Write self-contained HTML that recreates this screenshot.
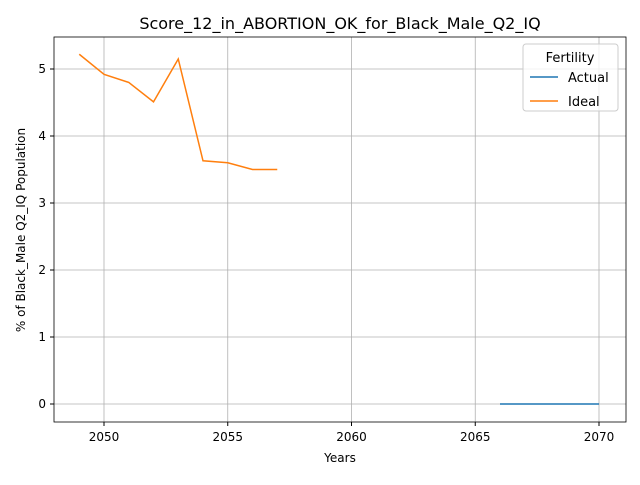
<!DOCTYPE html>
<html><head><meta charset="utf-8"><style>
body{margin:0;background:#fff;font-family:"Liberation Sans","DejaVu Sans",sans-serif}
</style></head><body>
<svg id="chart" width="640" height="480" xmlns="http://www.w3.org/2000/svg">
<rect width="640" height="480" fill="#fff"/>
<text x="340" y="29" font-size="16" text-anchor="middle" font-family="DejaVu Sans, sans-serif">Score_12_in_ABORTION_OK_for_Black_Male_Q2_IQ</text>
<g id="grid"></g>
<g id="series"></g>
<rect x="54" y="37" width="572" height="385" fill="none" stroke="#000" stroke-width="0.8"/>
<g id="ticks" font-family="DejaVu Sans, sans-serif" font-size="12"></g>
<text x="340" y="462" font-size="12" text-anchor="middle" font-family="DejaVu Sans, sans-serif">Years</text>
<text transform="translate(25,230) rotate(-90)" font-size="12" text-anchor="middle" font-family="DejaVu Sans, sans-serif">% of Black_Male Q2_IQ Population</text>
<g font-family="DejaVu Sans, sans-serif">
<rect x="523" y="44" width="95" height="67" rx="3" fill="#fff" fill-opacity="0.8" stroke="#ccc"/>
<text x="570" y="62" font-size="13" text-anchor="middle">Fertility</text>
<line x1="530" y1="77" x2="558" y2="77" stroke="#1f77b4" stroke-width="1.5"/>
<text x="568" y="82" font-size="13">Actual</text>
<line x1="530" y1="101" x2="558" y2="101" stroke="#ff7f0e" stroke-width="1.5"/>
<text x="568" y="106" font-size="13">Ideal</text>
</g>
</svg>
<script>
const xTicks=[2050,2055,2060,2065,2070];
const yTicks=[0,1,2,3,4,5];
const idealYears=[2049,2050,2051,2052,2053,2054,2055,2056,2057];
const idealValues=[5.22,4.92,4.80,4.51,5.15,3.63,3.60,3.50,3.50];
const actualYears=[2066,2067,2068,2069,2070];
const actualValues=[0,0,0,0,0];
const NS="http://www.w3.org/2000/svg";
const xs=y=>104+(y-2050)*24.75;
const ys=v=>404-v*67;
const grid=document.getElementById('grid'),ticks=document.getElementById('ticks'),series=document.getElementById('series');
function mk(tag,attrs,parent){const e=document.createElementNS(NS,tag);for(const k in attrs)e.setAttribute(k,attrs[k]);parent.appendChild(e);return e;}
xTicks.forEach(t=>{const x=xs(t);
const g=mk('line',{x1:x,x2:x,y1:37,y2:422,stroke:'#b0b0b0','stroke-width':0.8},grid);


mk('line',{x1:x,x2:x,y1:422,y2:426,stroke:'#000'},ticks);
const tx=mk('text',{x:x,y:441,'text-anchor':'middle'},ticks);tx.textContent=t;

});
yTicks.forEach(t=>{const y=ys(t);
const g=mk('line',{x1:54,x2:626,y1:y,y2:y,stroke:'#b0b0b0','stroke-width':0.8},grid);


mk('line',{x1:50,x2:54,y1:y,y2:y,stroke:'#000'},ticks);
const tx=mk('text',{x:46,y:y+4,'text-anchor':'end'},ticks);tx.textContent=t;

});
function line(xv,yv,color,name){const p=mk('polyline',{points:xv.map((x,i)=>xs(x)+','+ys(yv[i])).join(' '),fill:'none',stroke:color,'stroke-width':1.5},series);

}
line(actualYears,actualValues,'#1f77b4','actual-line');
line(idealYears,idealValues,'#ff7f0e','ideal-line');
</script>
</body></html>
